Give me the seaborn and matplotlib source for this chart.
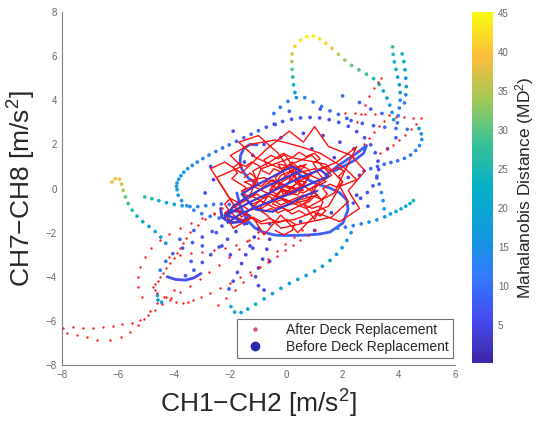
import numpy as np
import pandas as pd
import matplotlib
matplotlib.use("Agg")
import matplotlib.pyplot as plt
import seaborn as sns
from matplotlib.colors import LinearSegmentedColormap, Normalize
from matplotlib.cm import ScalarMappable
from matplotlib.lines import Line2D

# --------------------------------------------------
# Data (x, y, MD^2)
# --------------------------------------------------

before_top_arc = [
    (0.20, 6.10, 38), (0.19, 5.75, 34), (0.20, 5.40, 30), (0.22, 5.05, 26),
    (0.25, 4.70, 22), (0.30, 4.35, 18),
    (0.30, 6.45, 41), (0.50, 6.72, 43), (0.72, 6.88, 44), (0.95, 6.90, 44),
    (1.18, 6.78, 43), (1.40, 6.58, 41), (1.62, 6.35, 39), (1.85, 6.08, 36),
    (2.08, 5.82, 33), (2.32, 5.58, 31), (2.58, 5.38, 29), (2.85, 5.18, 27),
    (3.10, 4.98, 25), (3.30, 4.72, 23), (3.45, 4.42, 21), (3.58, 4.10, 19),
    (3.68, 3.78, 17), (3.76, 3.45, 15), (3.82, 3.12, 13),
]

before_right_column = [
    (3.78, 6.42, 27), (3.80, 6.08, 25), (3.84, 5.74, 23), (3.90, 5.40, 21),
    (3.96, 5.05, 19), (4.02, 4.70, 18), (4.05, 4.35, 16), (4.05, 4.00, 14),
    (4.02, 3.65, 12), (3.98, 3.30, 11), (3.95, 2.98, 10),
    (4.12, 6.10, 24), (4.18, 5.75, 22), (4.22, 5.38, 20), (4.25, 5.00, 18),
    (4.27, 4.62, 16), (4.25, 4.25, 14), (4.20, 3.88, 12),
]

before_right_hook = [
    (4.72, 2.72, 17), (4.80, 2.48, 16), (4.82, 2.22, 15), (4.74, 1.95, 14),
    (4.60, 1.72, 13), (4.42, 1.52, 12), (4.20, 1.37, 11), (3.96, 1.26, 10),
    (3.72, 1.18, 9), (3.48, 1.10, 9), (3.24, 1.00, 8), (3.00, 0.90, 8),
    (2.76, 0.80, 7),
]

before_right_green = [
    (4.52, -0.55, 24), (4.40, -0.68, 23), (4.25, -0.80, 22), (4.08, -0.92, 21),
    (3.90, -1.04, 20), (3.70, -1.15, 18), (3.50, -1.28, 17), (3.22, -1.42, 15),
    (2.94, -1.52, 14), (2.66, -1.60, 13), (2.38, -1.68, 12), (2.10, -1.75, 11),
    (1.82, -1.80, 10),
    (3.48, -0.92, 16), (3.44, -0.55, 14), (3.38, -0.18, 12), (3.30, 0.20, 10),
    (3.22, 0.56, 9),
]

before_lower_tail = [
    (2.30, -2.00, 15), (2.15, -2.35, 16), (1.98, -2.68, 16), (1.78, -2.98, 17),
    (1.55, -3.26, 18), (1.28, -3.52, 18), (1.00, -3.74, 19), (0.70, -3.94, 19),
    (0.40, -4.12, 20), (0.10, -4.30, 20), (-0.20, -4.52, 20), (-0.50, -4.76, 21),
    (-0.80, -5.00, 21), (-1.10, -5.24, 21), (-1.38, -5.46, 21), (-1.62, -5.62, 20),
    (-1.85, -5.60, 20), (-1.98, -5.35, 19),
]

before_left_hook = [
    (-6.22, 0.30, 39), (-6.10, 0.44, 40), (-5.95, 0.42, 39), (-5.88, 0.20, 37),
    (-5.82, -0.08, 34), (-5.74, -0.38, 31), (-5.64, -0.68, 28), (-5.50, -0.98, 26),
    (-5.33, -1.25, 24), (-5.12, -1.50, 22), (-4.90, -1.72, 21), (-4.68, -1.95, 19),
    (-4.48, -2.20, 18), (-4.30, -2.48, 17),
]

before_left_teal = [
    (-5.05, -0.38, 27), (-4.80, -0.46, 25), (-4.55, -0.55, 23), (-4.28, -0.64, 21),
    (-4.00, -0.72, 19), (-3.72, -0.78, 17), (-3.44, -0.82, 15), (-3.16, -0.82, 14),
    (-2.88, -0.78, 12), (-2.60, -0.72, 11), (-2.32, -0.70, 10), (-2.04, -0.72, 9),
    (-4.58, -5.05, 18), (-4.45, -5.15, 18), (-4.60, -4.85, 17),
]

before_ellipse = [
    (-3.90, -0.05, 18), (-3.92, 0.10, 18), (-3.90, 0.25, 17), (-3.84, 0.42, 17),
    (-3.76, 0.58, 16), (-3.66, 0.74, 15), (-3.52, 0.90, 14), (-3.36, 1.05, 13),
    (-3.18, 1.20, 13), (-2.98, 1.36, 12), (-2.76, 1.52, 11), (-2.52, 1.68, 11),
    (-2.28, 1.84, 10), (-2.04, 1.98, 10), (-1.78, 2.14, 9), (-1.52, 2.30, 9),
    (-1.26, 2.46, 8), (-1.00, 2.62, 8), (-0.72, 2.78, 8), (-0.44, 2.92, 7),
    (-0.14, 3.04, 7), (0.18, 3.14, 7), (0.50, 3.20, 7), (0.84, 3.22, 6),
    (1.18, 3.20, 6), (1.52, 3.12, 6), (1.86, 3.00, 6), (2.20, 2.82, 6),
    (2.50, 2.58, 6), (2.78, 2.30, 6), (3.00, 1.98, 6), (3.16, 1.62, 6),
    (3.26, 1.24, 6), (3.28, 0.86, 6), (3.22, 0.48, 6), (3.08, 0.12, 6),
    (2.88, -0.18, 6), (2.64, -0.44, 6), (2.38, -0.66, 7),
    (-3.86, -0.30, 17), (-3.74, -0.55, 16), (-3.55, -0.78, 14), (-3.30, -0.98, 13),
    (-3.02, -1.14, 12), (-2.72, -1.26, 11), (-2.40, -1.34, 10), (-2.08, -1.40, 9),
]

before_small_arc = [
    (-0.45, 3.40, 10), (-0.22, 3.68, 12), (0.05, 3.95, 13), (0.35, 4.12, 14),
    (0.65, 4.12, 13), (0.95, 3.92, 12), (1.25, 3.72, 11), (1.55, 3.52, 10),
    (1.85, 3.36, 9), (2.15, 3.18, 8),
    (2.30, 3.08, 7), (2.70, 2.95, 7), (3.10, 2.85, 8), (3.50, 2.78, 9),
    (3.90, 2.72, 10), (4.30, 2.68, 11),
]

before_center_dots = [
    (-0.8, 2.0, 5), (-0.2, 2.3, 5), (0.6, 2.5, 5), (1.3, 2.4, 5), (1.9, 2.1, 5),
    (2.4, 1.8, 6), (-1.2, 1.5, 4), (0.9, 1.8, 4), (2.6, 0.6, 5), (2.5, -0.3, 5),
    (1.6, -1.1, 4), (0.5, -1.5, 4), (-0.6, -1.6, 4), (-2.6, 0.4, 5), (-2.9, -0.2, 6),
    (-2.5, -2.0, 6), (-3.0, -2.6, 7), (-3.4, -3.3, 7), (-2.0, -3.0, 6), (-1.2, -2.7, 6),
    (-0.6, -3.3, 6), (-3.8, -2.3, 8), (-3.3, -1.9, 7), (-2.3, -2.6, 6), (3.0, 3.6, 8),
    (2.6, 3.9, 9), (3.4, 3.4, 8), (2.0, 4.2, 9), (-0.4, 2.9, 6), (1.7, 1.4, 5),
    (2.9, -0.8, 6), (-1.9, 2.6, 6), (1.2, 3.6, 7), (0.1, 3.5, 7), (-1.5, 1.2, 5),
    (2.2, 0.5, 5), (1.0, -1.9, 5), (-2.7, 1.0, 6), (3.6, 1.8, 7), (3.9, 2.3, 8),
]

before_lower_left = [
    (-1.00, -1.80, 4), (-1.15, -2.20, 4), (-1.30, -2.60, 5), (-1.45, -3.00, 5),
    (-1.60, -3.40, 5), (-1.75, -3.80, 6), (-1.90, -4.20, 6), (-2.05, -4.55, 6),
    (-1.50, -1.60, 5), (-1.80, -1.95, 5), (-2.10, -2.30, 6), (-2.40, -2.65, 6),
    (-2.70, -3.00, 6), (-3.00, -3.35, 7), (-3.30, -3.70, 7), (-3.60, -3.95, 8),
    (-0.60, -2.30, 4), (-0.70, -2.75, 5), (-0.85, -3.20, 5), (-1.00, -3.60, 5),
    (-1.10, -4.00, 6), (-1.00, -4.40, 6), (-0.80, -4.60, 6),
    (-2.30, -1.70, 6), (-2.65, -1.95, 7), (-3.00, -2.20, 7), (-3.35, -2.45, 8),
    (-3.70, -2.70, 8), (-4.05, -2.95, 9), (-4.30, -3.30, 10), (-4.50, -3.70, 11),
]

# dense "before" stretches (drawn as thick traces), one MD^2 level each
loop_lower_x = [-1.77, -1.66, -1.41, -1.12, -0.84, -0.41, 0.02, 0.73, 1.19, 1.55, 2.01, 2.19, 2.15, 1.90, 1.55, 1.08, 0.66, 0.30]
loop_lower_y = [-0.20, -0.75, -1.43, -1.79, -1.97, -2.11, -2.13, -2.11, -2.06, -1.97, -1.56, -0.97, -0.52, -0.20, 0.02, 0.20, 0.48, 0.75]
loop_lower_md = 8

loop_c_x = [-1.05, -1.30, -1.52, -1.64, -1.66, -1.55, -1.35, -1.10]
loop_c_y = [1.98, 2.00, 1.82, 1.50, 1.12, 0.76, 0.46, 0.25]
loop_c_md = 7

loop_arrow_x = [1.4, 1.8, 2.15, 2.5, 2.85, 2.75, 2.45, 2.1, 1.7]
loop_arrow_y = [0.6, 1.0, 1.30, 1.6, 1.95, 1.60, 1.30, 1.05, 0.8]
loop_arrow_md = 8

loop_center_x = [-2.1, -1.7, -1.2, -0.6, 0.0, 0.5, 1.0, 1.5, 1.2, 0.6, 0.0, -0.6, -1.2, -1.8, -2.2, -1.9, -1.3, -0.7, -0.1, 0.5, 0.2, -0.4, -1.0, -1.6, -1.1, -0.5, 0.1, 0.6, 1.1]
loop_center_y = [-1.55, -1.2, -0.9, -0.6, -0.3, 0.0, 0.3, 0.55, 0.85, 0.55, 0.2, -0.2, -0.55, -0.95, -1.3, -0.8, -0.3, 0.1, 0.45, 0.8, 1.0, 0.6, 0.2, -0.25, -0.95, -1.05, -0.7, -0.35, -0.1]
loop_center_md = 3

loop_midleft_x = [-2.35, -2.3, -2.0, -1.6, -1.3, -1.6, -2.0, -2.2, -1.8, -1.4]
loop_midleft_y = [-0.9, -1.3, -1.55, -1.5, -1.25, -1.05, -1.0, -1.2, -1.35, -1.6]
loop_midleft_md = 4

loop_lowleft_x = [-4.25, -3.95, -3.6, -3.3, -3.05]
loop_lowleft_y = [-4.0, -4.12, -4.15, -4.05, -3.85]
loop_lowleft_md = 6

# "after" sparse dotted paths (x, y)
after_tail_upper = [
    (-7.96, -6.32), (-7.61, -6.28), (-7.25, -6.32), (-6.90, -6.30), (-6.54, -6.28),
    (-6.20, -6.22), (-5.86, -6.15), (-5.51, -6.08), (-5.22, -5.96), (-4.95, -5.75),
    (-4.70, -5.50), (-4.42, -5.22), (-4.10, -4.95), (-3.78, -4.68), (-3.45, -4.40),
    (-3.10, -4.10), (-2.75, -3.78), (-2.40, -3.45), (-2.05, -3.10), (-1.70, -2.72),
    (-1.35, -2.35), (-1.00, -1.98),
]
after_tail_lower = [
    (-7.82, -6.55), (-7.45, -6.65), (-7.11, -6.73), (-6.75, -6.87), (-6.29, -6.87),
    (-5.90, -6.72), (-5.58, -6.50), (-5.30, -6.20), (-5.08, -5.90), (-4.85, -5.55),
    (-4.60, -5.20), (-4.30, -4.90), (-4.00, -4.62),
]
after_v = [
    (-2.30, -0.90), (-2.60, -1.15), (-2.90, -1.40), (-3.15, -1.65), (-3.44, -1.97),
    (-3.57, -2.22), (-3.69, -2.47), (-3.80, -2.70), (-3.90, -2.92), (-4.02, -3.15),
    (-4.15, -3.38), (-4.28, -3.60), (-4.40, -3.83), (-4.50, -4.02), (-4.58, -4.19),
    (-4.68, -4.33), (-4.76, -4.47), (-4.70, -4.62), (-4.62, -4.74), (-4.38, -4.90),
    (-4.15, -5.05), (-3.92, -5.12), (-3.69, -5.19), (-3.50, -5.12), (-3.33, -5.05),
    (-3.03, -4.90), (-2.73, -4.74), (-2.37, -4.50), (-2.01, -4.28), (-1.66, -4.03),
    (-1.30, -3.79), (-0.98, -3.56), (-0.66, -3.33), (-0.35, -3.06), (-0.05, -2.79),
    (0.22, -2.56), (0.48, -2.34), (0.75, -2.10), (1.01, -1.88),
]
after_left_curve = [
    (-5.15, -4.90), (-5.28, -4.45), (-5.30, -4.00), (-5.22, -3.55), (-5.05, -3.10),
    (-4.82, -2.70), (-4.52, -2.35), (-4.18, -2.05), (-3.80, -1.80), (-3.40, -1.56),
    (-3.00, -1.32), (-2.60, -1.10),
    (-4.20, -3.10), (-3.80, -3.00), (-3.40, -2.92), (-3.00, -2.86), (-2.60, -2.80),
    (-2.20, -2.70), (-1.80, -2.55), (-1.40, -2.40), (-1.00, -2.25),
    (-2.45, -5.30), (-2.15, -4.95), (-1.85, -4.60), (-1.55, -4.25), (-1.25, -3.90),
    (-0.95, -3.55), (-0.65, -3.20), (-0.35, -2.85), (-0.05, -2.50), (0.25, -2.20),
    (0.55, -1.90),
]
after_right = [
    (4.80, 3.18), (4.50, 3.20), (4.20, 3.22), (3.90, 3.26), (3.65, 3.32),
    (4.62, 2.92), (4.42, 2.68), (4.22, 2.44), (4.02, 2.20), (3.80, 1.98),
    (3.58, 1.78), (3.34, 1.60), (3.48, 3.08), (3.30, 2.82), (3.12, 2.55),
    (2.94, 2.28), (2.76, 2.00), (2.56, 1.72), (2.36, 1.45),
    (2.50, 3.00), (2.65, 3.40), (2.80, 3.80), (2.95, 4.20), (3.10, 4.55),
    (3.25, 4.85), (3.38, 5.00), (2.10, 3.42), (2.45, 3.42), (2.80, 3.40),
    (3.15, 3.36),
]

# "after" dense scribble around the origin
scribble_a = [
    (-0.3, 0.2), (0.5, 0.8), (1.2, 0.4), (0.8, -0.5), (-0.4, -0.9), (-1.3, -0.3),
    (-0.9, 0.9), (0.2, 1.4), (1.4, 1.1), (2.0, 0.3), (1.5, -0.8), (0.3, -1.4),
    (-0.9, -1.6), (-1.8, -0.9), (-2.3, 0.1), (-2.7, 0.9), (-2.2, 1.2), (-1.6, 0.7),
    (-0.7, 1.8), (0.1, 2.6), (0.6, 2.1), (1.0, 2.8), (1.5, 1.9), (2.3, 1.5),
    (2.8, 0.8), (2.2, -0.1), (2.6, -0.9), (1.9, -1.5), (1.1, -1.1), (0.4, -2.0),
    (-0.2, -1.2), (-0.8, -2.1), (-1.2, -1.3), (-1.9, -1.8), (-2.2, -1.1), (-1.4, -0.5),
    (-0.5, 0.4), (0.6, -0.2), (1.6, 0.6), (0.9, 1.5), (-0.2, 0.9), (-1.1, 1.4),
    (-1.7, 2.1), (-1.0, 2.4), (-0.3, 1.6), (0.4, 0.3), (1.1, -0.3), (0.2, -0.6),
    (-0.7, -0.2), (-1.5, 0.3), (-0.8, 0.5), (0.1, 0.0), (0.9, 0.7), (1.8, 1.2),
    (2.5, 1.9), (1.7, -0.2), (0.7, -0.9), (-0.3, -0.4), (-1.0, -1.0), (-0.2, 0.6),
    (0.7, 1.1), (0.0, 0.2), (-0.6, -0.6), (0.5, 0.1),
]
scribble_b = [
    (0.0, 0.5), (-0.3, 1.1), (0.3, 1.0), (0.1, 0.4), (0.7, 0.3), (0.4, -0.3),
    (-0.2, -0.1), (-0.5, -0.7), (0.1, -1.0), (0.6, -0.7), (1.0, -1.4), (1.3, -0.6),
    (0.9, 0.0), (1.4, 0.3), (1.0, 0.9), (0.4, 0.7), (-0.1, 1.6), (-0.6, 1.2),
    (-1.2, 0.8), (-1.0, 0.2), (-1.6, -0.1), (-1.3, -0.7), (-0.7, -1.2), (-0.2, -1.8),
    (0.5, -1.6), (1.6, -1.3), (2.2, -0.6), (1.9, 0.1), (2.5, 0.4), (2.1, 0.9),
    (1.2, 1.6), (0.5, 1.9), (-0.4, 2.2), (-1.3, 2.0), (-2.0, 1.5), (-1.6, 1.0),
    (-2.5, 0.5), (-2.1, -0.3), (-1.6, -1.3), (-0.9, -0.5), (-0.2, 0.2), (0.6, -0.1),
    (0.2, 0.8), (-0.5, 0.1), (0.3, -0.2), (0.8, 0.5), (0.2, 1.2), (-0.4, 0.5),
    (-0.1, -0.3), (0.5, 0.4),
]
scribble_c = [
    (-1.5, 0.5), (-1.3, 0.7), (-1.1, 0.5), (-1.2, 0.2), (-0.9, 0.1), (-0.7, 0.35),
    (-0.5, 0.15), (-0.6, -0.1), (-0.35, -0.25), (-0.1, -0.05), (0.1, -0.3), (0.35, -0.15),
    (0.5, 0.1), (0.3, 0.3), (0.45, 0.55), (0.7, 0.45), (0.9, 0.65), (0.75, 0.9),
    (0.5, 1.05), (0.25, 0.85), (0.0, 1.0), (-0.2, 0.75), (-0.45, 0.9), (-0.6, 0.65),
    (-0.85, 0.8), (-1.0, 1.05), (-1.25, 1.2), (-1.45, 1.0), (-1.7, 1.15), (-1.9, 0.95),
    (-1.75, 0.7), (-1.95, 0.45), (-1.7, 0.25), (-1.45, 0.05), (-1.55, -0.2), (-1.3, -0.4),
    (-1.05, -0.25), (-0.85, -0.45), (-0.6, -0.35), (-0.4, -0.6), (-0.15, -0.5), (0.1, -0.7),
    (0.35, -0.55), (0.55, -0.75), (0.8, -0.6), (1.0, -0.35), (1.25, -0.5), (1.45, -0.25),
    (1.3, 0.0), (1.55, 0.2), (1.8, 0.05), (2.0, 0.3), (1.85, 0.55), (2.05, 0.8),
    (1.8, 0.95), (1.55, 0.8), (1.35, 1.0), (1.1, 0.85), (0.95, 1.15), (1.2, 1.35),
    (1.0, 1.6), (0.7, 1.45), (0.45, 1.65), (0.2, 1.4), (-0.05, 1.55), (-0.3, 1.35),
    (-0.55, 1.5), (-0.8, 1.3), (-0.7, 1.05),
]
scribble_d = [
    (-1.8, -1.0), (-1.55, -0.8), (-1.3, -1.0), (-1.05, -0.85), (-0.8, -1.05), (-0.55, -0.9),
    (-0.3, -1.1), (-0.05, -0.95), (0.2, -1.15), (0.45, -1.0), (0.7, -1.2), (0.95, -1.05),
    (1.2, -1.25), (1.4, -1.0), (1.15, -0.8), (0.9, -0.9), (0.6, -0.7), (0.85, -0.45),
    (0.6, -0.3), (0.3, -0.45), (0.05, -0.6), (-0.2, -0.75), (-0.45, -0.55), (-0.7, -0.7),
    (-0.95, -0.55), (-1.2, -0.7), (-1.45, -0.5), (-1.7, -0.65), (-2.0, -0.45), (-2.2, -0.7),
    (-2.05, -1.0), (-1.8, -1.3), (-1.5, -1.45), (-1.2, -1.3), (-0.9, -1.5), (-0.6, -1.35),
    (-0.3, -1.55), (0.0, -1.4), (0.3, -1.6), (0.2, -1.9), (-0.1, -2.1), (-0.4, -1.9),
]

x_ticks = [-8, -6, -4, -2, 0, 2, 4, 6]
y_ticks = [-8, -6, -4, -2, 0, 2, 4, 6, 8]
cbar_ticks = [5, 10, 15, 20, 25, 30, 35, 40, 45]
md_min, md_max = 0.15, 45.1

# --------------------------------------------------
# Frames
# --------------------------------------------------

before_df = pd.DataFrame(
    before_top_arc + before_right_column + before_right_hook + before_right_green
    + before_lower_tail + before_left_hook + before_left_teal + before_ellipse
    + before_small_arc + before_center_dots + before_lower_left,
    columns=["x", "y", "md"],
)
after_df = pd.DataFrame(
    after_tail_upper + after_tail_lower + after_v + after_left_curve + after_right,
    columns=["x", "y"],
)

# --------------------------------------------------
# Style
# --------------------------------------------------

sns.set_style("white")
plt.rcParams["font.family"] = ["Liberation Sans", "DejaVu Sans"]
plt.rcParams["mathtext.fontset"] = "custom"
plt.rcParams["mathtext.rm"] = "Liberation Sans"
plt.rcParams["mathtext.it"] = "Liberation Sans"

parula = LinearSegmentedColormap.from_list("parula", [
    (0.2422, 0.1504, 0.6603), (0.2758, 0.2985, 0.9409), (0.1899, 0.4847, 0.9856),
    (0.0594, 0.6091, 0.8617), (0.0253, 0.6857, 0.7803), (0.2129, 0.7600, 0.5945),
    (0.6300, 0.7900, 0.3400), (0.9900, 0.7400, 0.2400), (0.9763, 0.9831, 0.0538),
])
norm = Normalize(md_min, md_max)

fig = plt.figure(figsize=(5.39, 4.28), dpi=100)
ax = fig.add_axes([0.115, 0.147, 0.729, 0.825])
cax = fig.add_axes([0.876, 0.152, 0.039, 0.820])

# --------------------------------------------------
# Before deck replacement (coloured by MD^2)
# --------------------------------------------------

for lx, ly, lmd in [
    (loop_lower_x, loop_lower_y, loop_lower_md),
    (loop_c_x, loop_c_y, loop_c_md),
    (loop_arrow_x, loop_arrow_y, loop_arrow_md),
    (loop_midleft_x, loop_midleft_y, loop_midleft_md),
    (loop_lowleft_x, loop_lowleft_y, loop_lowleft_md),
]:
    ax.plot(lx, ly, color=parula(norm(lmd)), lw=2.0, zorder=2)

sns.scatterplot(
    data=before_df, x="x", y="y", hue="md", palette=parula, hue_norm=norm,
    s=7, linewidth=0, legend=False, ax=ax, zorder=3,
)

# --------------------------------------------------
# After deck replacement (red)
# --------------------------------------------------

sns.scatterplot(data=after_df, x="x", y="y", color="#ff1a1a", s=3,
                linewidth=0, legend=False, ax=ax, zorder=4)

for scr in [scribble_a, scribble_b, scribble_c, scribble_d]:
    sx, sy = zip(*scr)
    ax.plot(sx, sy, color="#ff1010", lw=1.0, zorder=4)

ax.plot(loop_center_x, loop_center_y, color=parula(norm(loop_center_md)),
        lw=1.6, zorder=5)

# --------------------------------------------------
# Axes
# --------------------------------------------------

ax.set_xlim(-8, 6)
ax.set_ylim(-8, 8)
ax.set_xticks(x_ticks)
ax.set_yticks(y_ticks)
ax.tick_params(direction="in", length=3, width=0.6, labelsize=7,
               colors="0.45", labelcolor="0.4")
for side in ["top", "right"]:
    ax.spines[side].set_visible(False)
for side in ["left", "bottom"]:
    ax.spines[side].set_color("0.5")
    ax.spines[side].set_linewidth(0.8)

ax.set_xlabel("CH1\u2212CH2 [m/s$^2$]", fontsize=19, color="0.15", labelpad=6)
ax.set_ylabel("CH7\u2212CH8 [m/s$^2$]", fontsize=19, color="0.15", labelpad=6)

handles = [
    Line2D([], [], ls="none", marker="o", ms=2.2, color="#e05070",
           label="After Deck Replacement"),
    Line2D([], [], ls="none", marker="o", ms=6, color="#2a2aa8",
           label="Before Deck Replacement"),
]
leg = ax.legend(handles=handles, loc="lower right", bbox_to_anchor=(0.995, 0.02),
                fontsize=10, frameon=True, fancybox=False, borderpad=0.3,
                handletextpad=1.2, labelspacing=0.2, borderaxespad=0)
leg.get_frame().set_edgecolor("0.3")
leg.get_frame().set_linewidth(0.8)

# --------------------------------------------------
# Colorbar
# --------------------------------------------------

cb = fig.colorbar(ScalarMappable(norm=norm, cmap=parula), cax=cax)
cb.set_ticks(cbar_ticks)
cb.outline.set_visible(False)
cax.tick_params(direction="in", length=2, width=0.5, labelsize=7,
                colors="0.5", labelcolor="0.4")
cb.set_label("Mahalanobis Distance (MD$^2$)", fontsize=12.5, color="0.15",
             labelpad=3)

fig.savefig("out.png", dpi=100)
